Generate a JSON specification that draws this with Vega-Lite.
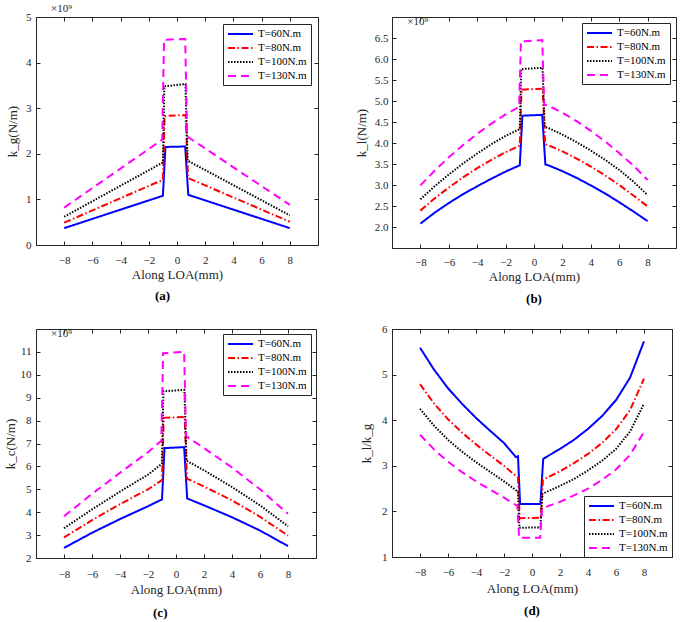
{
  "$schema": "https://vega.github.io/schema/vega-lite/v6.json",
  "background": "white",
  "padding": {"left": 3, "top": 2, "right": 0, "bottom": 0},
  "columns": 2,
  "spacing": {"row": 15, "column": 35},
  "datasets": {
    "a": [
      {"x": -8, "y": 0.37, "s": "T=60N.m"}, {"x": -1.0, "y": 1.08, "s": "T=60N.m"}, {"x": -0.82, "y": 2.15, "s": "T=60N.m"}, {"x": 0.58, "y": 2.16, "s": "T=60N.m"}, {"x": 0.8, "y": 1.10, "s": "T=60N.m"}, {"x": 8, "y": 0.37, "s": "T=60N.m"},
      {"x": -8, "y": 0.49, "s": "T=80N.m"}, {"x": -1.0, "y": 1.43, "s": "T=80N.m"}, {"x": -0.88, "y": 2.83, "s": "T=80N.m"}, {"x": 0.62, "y": 2.85, "s": "T=80N.m"}, {"x": 0.78, "y": 1.47, "s": "T=80N.m"}, {"x": 8, "y": 0.51, "s": "T=80N.m"},
      {"x": -8, "y": 0.62, "s": "T=100N.m"}, {"x": -1.0, "y": 1.81, "s": "T=100N.m"}, {"x": -0.9, "y": 3.48, "s": "T=100N.m"}, {"x": 0.6, "y": 3.53, "s": "T=100N.m"}, {"x": 0.75, "y": 1.85, "s": "T=100N.m"}, {"x": 8, "y": 0.65, "s": "T=100N.m"},
      {"x": -8, "y": 0.82, "s": "T=130N.m"}, {"x": -1.05, "y": 2.31, "s": "T=130N.m"}, {"x": -0.92, "y": 4.50, "s": "T=130N.m"}, {"x": 0.58, "y": 4.52, "s": "T=130N.m"}, {"x": 0.72, "y": 2.38, "s": "T=130N.m"}, {"x": 8, "y": 0.88, "s": "T=130N.m"}
    ],
    "b": [
      {"x": -8, "y": 2.08, "s": "T=60N.m"}, {"x": -7, "y": 2.34, "s": "T=60N.m"}, {"x": -6, "y": 2.57, "s": "T=60N.m"}, {"x": -5, "y": 2.78, "s": "T=60N.m"}, {"x": -4, "y": 2.97, "s": "T=60N.m"}, {"x": -3, "y": 3.15, "s": "T=60N.m"}, {"x": -2, "y": 3.32, "s": "T=60N.m"}, {"x": -1, "y": 3.47, "s": "T=60N.m"}, {"x": -0.82, "y": 4.65, "s": "T=60N.m"}, {"x": 0.58, "y": 4.67, "s": "T=60N.m"}, {"x": 0.8, "y": 3.49, "s": "T=60N.m"}, {"x": 1, "y": 3.47, "s": "T=60N.m"}, {"x": 2, "y": 3.33, "s": "T=60N.m"}, {"x": 3, "y": 3.17, "s": "T=60N.m"}, {"x": 4, "y": 2.99, "s": "T=60N.m"}, {"x": 5, "y": 2.80, "s": "T=60N.m"}, {"x": 6, "y": 2.59, "s": "T=60N.m"}, {"x": 7, "y": 2.37, "s": "T=60N.m"}, {"x": 8, "y": 2.14, "s": "T=60N.m"},
      {"x": -8, "y": 2.39, "s": "T=80N.m"}, {"x": -7, "y": 2.68, "s": "T=80N.m"}, {"x": -6, "y": 2.94, "s": "T=80N.m"}, {"x": -5, "y": 3.18, "s": "T=80N.m"}, {"x": -4, "y": 3.40, "s": "T=80N.m"}, {"x": -3, "y": 3.60, "s": "T=80N.m"}, {"x": -2, "y": 3.78, "s": "T=80N.m"}, {"x": -1, "y": 3.94, "s": "T=80N.m"}, {"x": -0.88, "y": 5.27, "s": "T=80N.m"}, {"x": 0.62, "y": 5.29, "s": "T=80N.m"}, {"x": 0.78, "y": 3.97, "s": "T=80N.m"}, {"x": 1, "y": 3.95, "s": "T=80N.m"}, {"x": 2, "y": 3.80, "s": "T=80N.m"}, {"x": 3, "y": 3.63, "s": "T=80N.m"}, {"x": 4, "y": 3.44, "s": "T=80N.m"}, {"x": 5, "y": 3.23, "s": "T=80N.m"}, {"x": 6, "y": 3.00, "s": "T=80N.m"}, {"x": 7, "y": 2.75, "s": "T=80N.m"}, {"x": 8, "y": 2.49, "s": "T=80N.m"},
      {"x": -8, "y": 2.66, "s": "T=100N.m"}, {"x": -7, "y": 2.97, "s": "T=100N.m"}, {"x": -6, "y": 3.25, "s": "T=100N.m"}, {"x": -5, "y": 3.51, "s": "T=100N.m"}, {"x": -4, "y": 3.75, "s": "T=100N.m"}, {"x": -3, "y": 3.97, "s": "T=100N.m"}, {"x": -2, "y": 4.17, "s": "T=100N.m"}, {"x": -1, "y": 4.33, "s": "T=100N.m"}, {"x": -0.9, "y": 5.76, "s": "T=100N.m"}, {"x": 0.6, "y": 5.79, "s": "T=100N.m"}, {"x": 0.75, "y": 4.38, "s": "T=100N.m"}, {"x": 1, "y": 4.36, "s": "T=100N.m"}, {"x": 2, "y": 4.20, "s": "T=100N.m"}, {"x": 3, "y": 4.02, "s": "T=100N.m"}, {"x": 4, "y": 3.82, "s": "T=100N.m"}, {"x": 5, "y": 3.60, "s": "T=100N.m"}, {"x": 6, "y": 3.36, "s": "T=100N.m"}, {"x": 7, "y": 3.08, "s": "T=100N.m"}, {"x": 8, "y": 2.76, "s": "T=100N.m"},
      {"x": -8, "y": 2.99, "s": "T=130N.m"}, {"x": -7, "y": 3.34, "s": "T=130N.m"}, {"x": -6, "y": 3.66, "s": "T=130N.m"}, {"x": -5, "y": 3.95, "s": "T=130N.m"}, {"x": -4, "y": 4.22, "s": "T=130N.m"}, {"x": -3, "y": 4.46, "s": "T=130N.m"}, {"x": -2, "y": 4.68, "s": "T=130N.m"}, {"x": -1.05, "y": 4.86, "s": "T=130N.m"}, {"x": -0.92, "y": 6.42, "s": "T=130N.m"}, {"x": 0.58, "y": 6.45, "s": "T=130N.m"}, {"x": 0.72, "y": 4.91, "s": "T=130N.m"}, {"x": 1, "y": 4.89, "s": "T=130N.m"}, {"x": 2, "y": 4.72, "s": "T=130N.m"}, {"x": 3, "y": 4.52, "s": "T=130N.m"}, {"x": 4, "y": 4.29, "s": "T=130N.m"}, {"x": 5, "y": 4.04, "s": "T=130N.m"}, {"x": 6, "y": 3.76, "s": "T=130N.m"}, {"x": 7, "y": 3.46, "s": "T=130N.m"}, {"x": 8, "y": 3.12, "s": "T=130N.m"}
    ],
    "c": [
      {"x": -8, "y": 2.44, "s": "T=60N.m"}, {"x": -6, "y": 3.10, "s": "T=60N.m"}, {"x": -4, "y": 3.70, "s": "T=60N.m"}, {"x": -2, "y": 4.26, "s": "T=60N.m"}, {"x": -1, "y": 4.56, "s": "T=60N.m"}, {"x": -0.82, "y": 6.80, "s": "T=60N.m"}, {"x": 0.58, "y": 6.84, "s": "T=60N.m"}, {"x": 0.8, "y": 4.60, "s": "T=60N.m"}, {"x": 2, "y": 4.30, "s": "T=60N.m"}, {"x": 4, "y": 3.78, "s": "T=60N.m"}, {"x": 6, "y": 3.20, "s": "T=60N.m"}, {"x": 8, "y": 2.52, "s": "T=60N.m"},
      {"x": -8, "y": 2.90, "s": "T=80N.m"}, {"x": -6, "y": 3.65, "s": "T=80N.m"}, {"x": -4, "y": 4.35, "s": "T=80N.m"}, {"x": -2, "y": 5.00, "s": "T=80N.m"}, {"x": -1, "y": 5.40, "s": "T=80N.m"}, {"x": -0.88, "y": 8.12, "s": "T=80N.m"}, {"x": 0.62, "y": 8.16, "s": "T=80N.m"}, {"x": 0.78, "y": 5.47, "s": "T=80N.m"}, {"x": 2, "y": 5.12, "s": "T=80N.m"}, {"x": 4, "y": 4.52, "s": "T=80N.m"}, {"x": 6, "y": 3.80, "s": "T=80N.m"}, {"x": 8, "y": 2.98, "s": "T=80N.m"},
      {"x": -8, "y": 3.30, "s": "T=100N.m"}, {"x": -6, "y": 4.12, "s": "T=100N.m"}, {"x": -4, "y": 4.90, "s": "T=100N.m"}, {"x": -2, "y": 5.64, "s": "T=100N.m"}, {"x": -1, "y": 6.12, "s": "T=100N.m"}, {"x": -0.9, "y": 9.28, "s": "T=100N.m"}, {"x": 0.6, "y": 9.34, "s": "T=100N.m"}, {"x": 0.75, "y": 6.25, "s": "T=100N.m"}, {"x": 2, "y": 5.83, "s": "T=100N.m"}, {"x": 4, "y": 5.10, "s": "T=100N.m"}, {"x": 6, "y": 4.30, "s": "T=100N.m"}, {"x": 8, "y": 3.39, "s": "T=100N.m"},
      {"x": -8, "y": 3.82, "s": "T=130N.m"}, {"x": -6, "y": 4.80, "s": "T=130N.m"}, {"x": -4, "y": 5.72, "s": "T=130N.m"}, {"x": -2, "y": 6.62, "s": "T=130N.m"}, {"x": -1.05, "y": 7.12, "s": "T=130N.m"}, {"x": -0.92, "y": 10.94, "s": "T=130N.m"}, {"x": 0.58, "y": 11.0, "s": "T=130N.m"}, {"x": 0.72, "y": 7.32, "s": "T=130N.m"}, {"x": 2, "y": 6.80, "s": "T=130N.m"}, {"x": 4, "y": 5.95, "s": "T=130N.m"}, {"x": 6, "y": 5.00, "s": "T=130N.m"}, {"x": 8, "y": 3.93, "s": "T=130N.m"}
    ],
    "d": [
      {"x": -8, "y": 5.59, "s": "T=60N.m"}, {"x": -7, "y": 5.11, "s": "T=60N.m"}, {"x": -6, "y": 4.70, "s": "T=60N.m"}, {"x": -5, "y": 4.36, "s": "T=60N.m"}, {"x": -4, "y": 4.05, "s": "T=60N.m"}, {"x": -3, "y": 3.77, "s": "T=60N.m"}, {"x": -2, "y": 3.50, "s": "T=60N.m"}, {"x": -1.15, "y": 3.19, "s": "T=60N.m"}, {"x": -1.0, "y": 3.21, "s": "T=60N.m"}, {"x": -0.85, "y": 2.16, "s": "T=60N.m"}, {"x": 0.6, "y": 2.16, "s": "T=60N.m"}, {"x": 0.8, "y": 3.15, "s": "T=60N.m"}, {"x": 1, "y": 3.19, "s": "T=60N.m"}, {"x": 2, "y": 3.37, "s": "T=60N.m"}, {"x": 3, "y": 3.57, "s": "T=60N.m"}, {"x": 4, "y": 3.81, "s": "T=60N.m"}, {"x": 5, "y": 4.09, "s": "T=60N.m"}, {"x": 6, "y": 4.44, "s": "T=60N.m"}, {"x": 7, "y": 4.93, "s": "T=60N.m"}, {"x": 8, "y": 5.73, "s": "T=60N.m"},
      {"x": -8, "y": 4.79, "s": "T=80N.m"}, {"x": -7, "y": 4.37, "s": "T=80N.m"}, {"x": -6, "y": 4.02, "s": "T=80N.m"}, {"x": -5, "y": 3.73, "s": "T=80N.m"}, {"x": -4, "y": 3.47, "s": "T=80N.m"}, {"x": -3, "y": 3.23, "s": "T=80N.m"}, {"x": -2, "y": 3.00, "s": "T=80N.m"}, {"x": -1, "y": 2.74, "s": "T=80N.m"}, {"x": -0.88, "y": 1.85, "s": "T=80N.m"}, {"x": 0.62, "y": 1.86, "s": "T=80N.m"}, {"x": 0.78, "y": 2.70, "s": "T=80N.m"}, {"x": 1, "y": 2.73, "s": "T=80N.m"}, {"x": 2, "y": 2.88, "s": "T=80N.m"}, {"x": 3, "y": 3.06, "s": "T=80N.m"}, {"x": 4, "y": 3.26, "s": "T=80N.m"}, {"x": 5, "y": 3.50, "s": "T=80N.m"}, {"x": 6, "y": 3.80, "s": "T=80N.m"}, {"x": 7, "y": 4.22, "s": "T=80N.m"}, {"x": 8, "y": 4.91, "s": "T=80N.m"},
      {"x": -8, "y": 4.25, "s": "T=100N.m"}, {"x": -7, "y": 3.88, "s": "T=100N.m"}, {"x": -6, "y": 3.57, "s": "T=100N.m"}, {"x": -5, "y": 3.31, "s": "T=100N.m"}, {"x": -4, "y": 3.08, "s": "T=100N.m"}, {"x": -3, "y": 2.87, "s": "T=100N.m"}, {"x": -2, "y": 2.66, "s": "T=100N.m"}, {"x": -1, "y": 2.43, "s": "T=100N.m"}, {"x": -0.9, "y": 1.64, "s": "T=100N.m"}, {"x": 0.6, "y": 1.65, "s": "T=100N.m"}, {"x": 0.75, "y": 2.39, "s": "T=100N.m"}, {"x": 1, "y": 2.42, "s": "T=100N.m"}, {"x": 2, "y": 2.56, "s": "T=100N.m"}, {"x": 3, "y": 2.71, "s": "T=100N.m"}, {"x": 4, "y": 2.90, "s": "T=100N.m"}, {"x": 5, "y": 3.11, "s": "T=100N.m"}, {"x": 6, "y": 3.37, "s": "T=100N.m"}, {"x": 7, "y": 3.75, "s": "T=100N.m"}, {"x": 8, "y": 4.36, "s": "T=100N.m"},
      {"x": -8, "y": 3.68, "s": "T=130N.m"}, {"x": -7, "y": 3.36, "s": "T=130N.m"}, {"x": -6, "y": 3.09, "s": "T=130N.m"}, {"x": -5, "y": 2.86, "s": "T=130N.m"}, {"x": -4, "y": 2.66, "s": "T=130N.m"}, {"x": -3, "y": 2.48, "s": "T=130N.m"}, {"x": -2, "y": 2.30, "s": "T=130N.m"}, {"x": -1.05, "y": 2.12, "s": "T=130N.m"}, {"x": -0.92, "y": 1.42, "s": "T=130N.m"}, {"x": 0.58, "y": 1.42, "s": "T=130N.m"}, {"x": 0.72, "y": 2.07, "s": "T=130N.m"}, {"x": 1, "y": 2.10, "s": "T=130N.m"}, {"x": 2, "y": 2.21, "s": "T=130N.m"}, {"x": 3, "y": 2.35, "s": "T=130N.m"}, {"x": 4, "y": 2.50, "s": "T=130N.m"}, {"x": 5, "y": 2.69, "s": "T=130N.m"}, {"x": 6, "y": 2.92, "s": "T=130N.m"}, {"x": 7, "y": 3.24, "s": "T=130N.m"}, {"x": 8, "y": 3.74, "s": "T=130N.m"}
    ]
  },
  "concat": [
    {
      "width": 282, "height": 228,
      "title": {"text": "(a)", "orient": "bottom", "frame": "bounds", "offset": 9},
      "resolve": {"axis": {"x": "independent", "y": "independent"}},
      "layer": [
        {
          "data": {"name": "a"},
          "mark": {"type": "line", "strokeWidth": 2},
          "encoding": {
            "x": {"field": "x", "type": "quantitative", "scale": {"domain": [-9, 9]}, "axis": {"orient": "bottom", "title": "Along LOA(mm)", "values": [-8, -6, -4, -2, 0, 2, 4, 6, 8], "labelPadding": 13, "titlePadding": 3}},
            "y": {"field": "y", "type": "quantitative", "scale": {"domain": [0, 5]}, "axis": {"orient": "left", "title": "k_g(N/m)", "values": [0, 1, 2, 3, 4, 5], "labelPadding": 9, "titlePadding": 6}},
            "color": {"field": "s", "type": "nominal", "scale": {"domain": ["T=60N.m", "T=80N.m", "T=100N.m", "T=130N.m"], "range": ["#0000ff", "#ff0000", "#000000", "#ff00ff"]}, "legend": {"title": null, "orient": "top-right", "offset": 7}},
            "strokeDash": {"field": "s", "type": "nominal", "scale": {"domain": ["T=60N.m", "T=80N.m", "T=100N.m", "T=130N.m"], "range": [[1, 0], [7, 2.5, 1.5, 2.5], [1.5, 1.5], [8, 5]]}, "legend": {"title": null, "orient": "top-right", "offset": 7}}
          }
        },
        {
          "data": {"values": [{}]},
          "mark": {"type": "text", "align": "left", "baseline": "bottom", "dx": 1, "dy": -3, "font": "Liberation Serif", "fontSize": 11, "color": "#262626"},
          "encoding": {
            "x": {"datum": -9, "type": "quantitative", "axis": {"orient": "top", "title": null, "labels": false, "domain": false, "values": [-8, -6, -4, -2, 0, 2, 4, 6, 8]}},
            "y": {"datum": 5, "type": "quantitative", "axis": {"orient": "right", "title": null, "labels": false, "domain": false, "values": [0, 1, 2, 3, 4, 5]}},
            "text": {"value": "×10⁹"}
          }
        }
      ]
    },
    {
      "width": 284, "height": 231,
      "title": {"text": "(b)", "orient": "bottom", "frame": "group", "offset": 10},
      "resolve": {"axis": {"x": "independent", "y": "independent"}},
      "layer": [
        {
          "data": {"name": "b"},
          "mark": {"type": "line", "strokeWidth": 2},
          "encoding": {
            "x": {"field": "x", "type": "quantitative", "scale": {"domain": [-9, 9]}, "axis": {"orient": "bottom", "title": "Along LOA(mm)", "values": [-8, -6, -4, -2, 0, 2, 4, 6, 8], "labelPadding": 12, "titlePadding": 3}},
            "y": {"field": "y", "type": "quantitative", "scale": {"domain": [1.8, 6.7]}, "axis": {"orient": "left", "title": "k_l(N/m)", "values": [2, 2.5, 3, 3.5, 4, 4.5, 5, 5.5, 6, 6.5], "labelPadding": 8, "titlePadding": 6}},
            "color": {"field": "s", "type": "nominal", "scale": {"domain": ["T=60N.m", "T=80N.m", "T=100N.m", "T=130N.m"], "range": ["#0000ff", "#ff0000", "#000000", "#ff00ff"]}, "legend": {"title": null, "orient": "top-right", "offset": 6}},
            "strokeDash": {"field": "s", "type": "nominal", "scale": {"domain": ["T=60N.m", "T=80N.m", "T=100N.m", "T=130N.m"], "range": [[1, 0], [7, 2.5, 1.5, 2.5], [1.5, 1.5], [8, 5]]}, "legend": {"title": null, "orient": "top-right", "offset": 6}}
          }
        },
        {
          "data": {"values": [{}]},
          "mark": {"type": "text", "align": "left", "baseline": "bottom", "dx": 1, "dy": -3, "font": "Liberation Serif", "fontSize": 11, "color": "#262626"},
          "encoding": {
            "x": {"datum": -9, "type": "quantitative", "axis": {"orient": "top", "title": null, "labels": false, "domain": false, "values": [-8, -6, -4, -2, 0, 2, 4, 6, 8]}},
            "y": {"datum": 6.7, "type": "quantitative", "axis": {"orient": "right", "title": null, "labels": false, "domain": false, "values": [2, 2.5, 3, 3.5, 4, 4.5, 5, 5.5, 6, 6.5]}},
            "text": {"value": "×10⁹"}
          }
        }
      ]
    },
    {
      "width": 280, "height": 229,
      "title": {"text": "(c)", "orient": "bottom", "frame": "bounds", "offset": 11},
      "resolve": {"axis": {"x": "independent", "y": "independent"}},
      "layer": [
        {
          "data": {"name": "c"},
          "mark": {"type": "line", "strokeWidth": 2},
          "encoding": {
            "x": {"field": "x", "type": "quantitative", "scale": {"domain": [-9, 9]}, "axis": {"orient": "bottom", "title": "Along LOA(mm)", "values": [-8, -6, -4, -2, 0, 2, 4, 6, 8], "labelPadding": 14, "titlePadding": 4}},
            "y": {"field": "y", "type": "quantitative", "scale": {"domain": [2, 11.5]}, "axis": {"orient": "left", "title": "k_c(N/m)", "values": [2, 3, 4, 5, 6, 7, 8, 9, 10, 11], "labelPadding": 9, "titlePadding": 3}},
            "color": {"field": "s", "type": "nominal", "scale": {"domain": ["T=60N.m", "T=80N.m", "T=100N.m", "T=130N.m"], "range": ["#0000ff", "#ff0000", "#000000", "#ff00ff"]}, "legend": {"title": null, "orient": "top-right", "offset": 5}},
            "strokeDash": {"field": "s", "type": "nominal", "scale": {"domain": ["T=60N.m", "T=80N.m", "T=100N.m", "T=130N.m"], "range": [[1, 0], [7, 2.5, 1.5, 2.5], [1.5, 1.5], [8, 5]]}, "legend": {"title": null, "orient": "top-right", "offset": 5}}
          }
        },
        {
          "data": {"values": [{}]},
          "mark": {"type": "text", "align": "left", "baseline": "bottom", "dx": 1, "dy": -1, "font": "Liberation Serif", "fontSize": 11, "color": "#262626"},
          "encoding": {
            "x": {"datum": -9, "type": "quantitative", "axis": {"orient": "top", "title": null, "labels": false, "domain": false, "values": [-8, -6, -4, -2, 0, 2, 4, 6, 8]}},
            "y": {"datum": 11.5, "type": "quantitative", "axis": {"orient": "right", "title": null, "labels": false, "domain": false, "values": [2, 3, 4, 5, 6, 7, 8, 9, 10, 11]}},
            "text": {"value": "×10⁹"}
          }
        }
      ]
    },
    {
      "width": 280, "height": 228,
      "title": {"text": "(d)", "orient": "bottom", "frame": "group", "offset": 10},
      "resolve": {"axis": {"x": "independent", "y": "independent"}},
      "layer": [
        {
          "data": {"name": "d"},
          "mark": {"type": "line", "strokeWidth": 2},
          "encoding": {
            "x": {"field": "x", "type": "quantitative", "scale": {"domain": [-9, 9]}, "axis": {"orient": "bottom", "title": "Along LOA(mm)", "values": [-8, -6, -4, -2, 0, 2, 4, 6, 8], "labelPadding": 13, "titlePadding": 5}},
            "y": {"field": "y", "type": "quantitative", "scale": {"domain": [1, 6]}, "axis": {"orient": "left", "title": "k_l/k_g", "values": [1, 2, 3, 4, 5, 6], "labelPadding": 9, "titlePadding": 8}},
            "color": {"field": "s", "type": "nominal", "scale": {"domain": ["T=60N.m", "T=80N.m", "T=100N.m", "T=130N.m"], "range": ["#0000ff", "#ff0000", "#000000", "#ff00ff"]}, "legend": {"title": null, "orient": "bottom-right", "offset": 0}},
            "strokeDash": {"field": "s", "type": "nominal", "scale": {"domain": ["T=60N.m", "T=80N.m", "T=100N.m", "T=130N.m"], "range": [[1, 0], [7, 2.5, 1.5, 2.5], [1.5, 1.5], [8, 5]]}, "legend": {"title": null, "orient": "bottom-right", "offset": 0}}
          }
        },
        {
          "data": {"name": "d"},
          "mark": {"type": "line", "strokeOpacity": 0},
          "encoding": {
            "x": {"field": "x", "type": "quantitative", "axis": {"orient": "top", "title": null, "labels": false, "domain": false, "values": [-8, -6, -4, -2, 0, 2, 4, 6, 8]}},
            "y": {"field": "y", "type": "quantitative", "axis": {"orient": "right", "title": null, "labels": false, "domain": false, "values": [1, 2, 3, 4, 5, 6]}},
            "detail": {"field": "s"}
          }
        }
      ]
    }
  ],
  "config": {
    "view": {"stroke": "#262626", "strokeWidth": 1},
    "font": "Liberation Serif",
    "title": {"font": "Liberation Serif", "fontSize": 13, "fontWeight": "bold", "color": "#000000"},
    "axis": {
      "grid": false,
      "labelFont": "Liberation Serif", "labelFontSize": 11, "labelColor": "#262626",
      "titleFont": "Liberation Serif", "titleFontSize": 13, "titleFontWeight": "normal", "titleColor": "#262626",
      "domainColor": "#262626", "tickColor": "#262626", "tickSize": -4
    },
    "legend": {
      "strokeColor": "#262626", "fillColor": "#ffffff", "padding": 4, "cornerRadius": 0,
      "labelFont": "Liberation Serif", "labelFontSize": 11, "labelColor": "#000000", "labelLimit": 0,
      "symbolType": "M-1,0H4", "symbolSize": 100, "symbolStrokeWidth": 2, "rowPadding": 3, "labelOffset": 19
    }
  }
}
